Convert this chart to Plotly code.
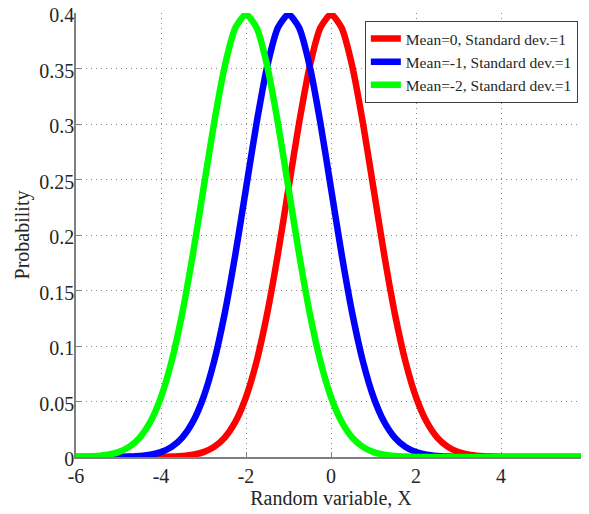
import plotly.graph_objects as go

# x positions (step 0.25) shared by the three curves
x_vals = [-6, -5.75, -5.5, -5.25, -5, -4.75, -4.5, -4.25, -4, -3.75, -3.5, -3.25,
          -3, -2.75, -2.5, -2.25, -2, -1.75, -1.5, -1.25, -1, -0.75, -0.5, -0.25,
          0, 0.25, 0.5, 0.75, 1, 1.25, 1.5, 1.75, 2, 2.25, 2.5, 2.75,
          3, 3.25, 3.5, 3.75, 4, 4.25, 4.5, 4.75, 5, 5.25, 5.5, 5.75, 6]

# Mean=0
y_red = [0, 0, 0, 0, 0, 0, 0, 0,
         0.0001, 0.0004, 0.0009, 0.0020, 0.0044, 0.0091, 0.0175, 0.0317,
         0.0540, 0.0863, 0.1295, 0.1826, 0.2420, 0.3011, 0.3521, 0.3867,
         0.3989,
         0.3867, 0.3521, 0.3011, 0.2420, 0.1826, 0.1295, 0.0863, 0.0540,
         0.0317, 0.0175, 0.0091, 0.0044, 0.0020, 0.0009, 0.0004, 0.0001,
         0, 0, 0, 0, 0, 0, 0, 0]

# Mean=-1
y_blue = [0, 0, 0, 0,
          0.0001, 0.0004, 0.0009, 0.0020, 0.0044, 0.0091, 0.0175, 0.0317,
          0.0540, 0.0863, 0.1295, 0.1826, 0.2420, 0.3011, 0.3521, 0.3867,
          0.3989,
          0.3867, 0.3521, 0.3011, 0.2420, 0.1826, 0.1295, 0.0863, 0.0540,
          0.0317, 0.0175, 0.0091, 0.0044, 0.0020, 0.0009, 0.0004, 0.0001,
          0, 0, 0, 0, 0, 0, 0, 0, 0, 0, 0, 0]

# Mean=-2
y_green = [0.0001, 0.0004, 0.0009, 0.0020, 0.0044, 0.0091, 0.0175, 0.0317,
           0.0540, 0.0863, 0.1295, 0.1826, 0.2420, 0.3011, 0.3521, 0.3867,
           0.3989,
           0.3867, 0.3521, 0.3011, 0.2420, 0.1826, 0.1295, 0.0863, 0.0540,
           0.0317, 0.0175, 0.0091, 0.0044, 0.0020, 0.0009, 0.0004, 0.0001,
           0, 0, 0, 0, 0, 0, 0, 0, 0, 0, 0, 0, 0, 0, 0, 0]

names = ['Mean=0, Standard dev.=1', 'Mean=-1, Standard dev.=1', 'Mean=-2, Standard dev.=1']
colors = ['#ff0000', '#0000ff', '#00ff00']
x_ticks = [-6, -4, -2, 0, 2, 4, 6]
y_ticks = [0, 0.05, 0.1, 0.15, 0.2, 0.25, 0.3, 0.35, 0.4]
y_ticktext = ['0', '0.05', '0.1', '0.15', '0.2', '0.25', '0.3', '0.35', '0.4']

serif = 'Liberation Serif, Times New Roman, serif'

fig = go.Figure()
for y, name, color in zip([y_red, y_blue, y_green], names, colors):
    fig.add_trace(go.Scatter(x=x_vals, y=y, mode='lines', name=name,
                             line=dict(color=color, width=6.5, shape='spline', smoothing=0.6)))

axis_style = dict(showgrid=True, gridcolor='#8a8a8a', griddash='1px,4px', gridwidth=1,
                  zeroline=False, showline=True, linecolor='#808080', linewidth=1.5,
                  ticks='inside', ticklen=5, tickcolor='#808080',
                  tickfont=dict(family=serif, size=20, color='#262626'),
                  ticklabeloverflow='allow', layer='below traces', automargin=False)

# the page body keeps an 8px margin, so the figure is 8px smaller on each side
fig.update_layout(
    width=581, height=506,
    paper_bgcolor='white', plot_bgcolor='white',
    margin=dict(l=68, r=3, t=5, b=57),
    font=dict(family=serif, color='#262626'),
    xaxis=dict(range=[-6, 6], tickvals=x_ticks, ticktext=[str(v) for v in x_ticks],
               title=dict(text='Random variable, X', font=dict(size=20), standoff=0),
               **axis_style),
    yaxis=dict(range=[0, 0.4], tickvals=y_ticks, ticktext=y_ticktext,
               ticklabelshift=2, ticklabelstandoff=-4,
               title=dict(text='Probability', font=dict(size=20), standoff=4),
               **axis_style),
    legend=dict(x=0.984, y=0.982, xanchor='right', yanchor='top',
                bgcolor='white', bordercolor='#404040', borderwidth=1,
                font=dict(family=serif, size=15.5, color='#262626'),
                tracegroupgap=0, itemwidth=30),
    showlegend=True,
)

fig.write_html("out.html")
